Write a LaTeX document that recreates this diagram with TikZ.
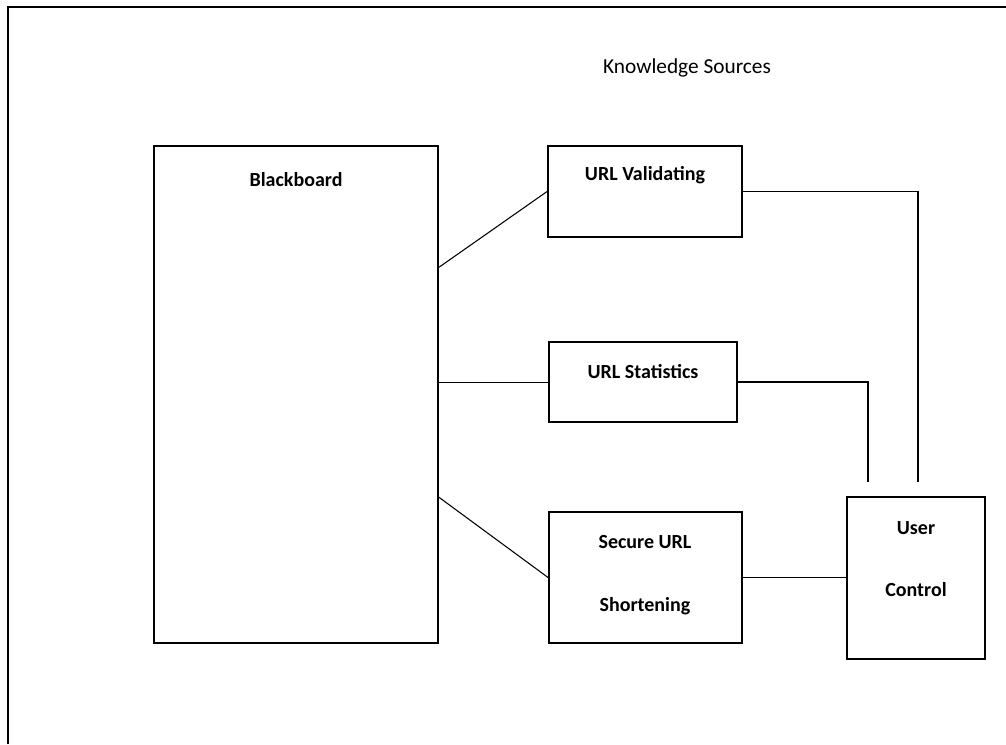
\documentclass[tikz,border=0pt]{standalone}
\usepackage{fontspec}
\setmainfont{Carlito}
\usetikzlibrary{positioning, calc}
\tikzstyle{box} = [rectangle, draw=black, line width=1.4pt, inner sep=0pt]
\tikzstyle{lbl} = [font=\fontsize{15}{18}\selectfont\bfseries, inner sep=0pt]
\tikzstyle{link} = [line width=0.8pt]

\begin{document}
\begin{tikzpicture}[x=0.75pt, y=-0.75pt]
    \useasboundingbox (0,0) rectangle (1006,744);

    % Outer frame
    \draw[line width=1.5pt] (8,744) -- (8,7) -- (1006,7);
    \node[font=\fontsize{16}{19}\selectfont, inner sep=0pt] (ks) at (687,68) {Knowledge Sources};

    % Boxes
    \node[box, minimum width=213pt, minimum height=372.75pt] (bb) at (296,394.5) {};
    \node[box, minimum width=145.5pt, minimum height=68.25pt] (val) at (645,191.5) {};
    \node[box, minimum width=141pt, minimum height=60pt] (stat) at (643,382) {};
    \node[box, minimum width=144.75pt, minimum height=98.25pt] (sec) at (645.5,577.5) {};
    \node[box, minimum width=103.5pt, minimum height=121.5pt] (uc) at (916,578) {};

    % Box texts
    \node[lbl] (bbt) at (296,180) {Blackboard};
    \node[lbl] (valt) at (645,175) {URL Validating};
    \node[lbl] (statt) at (643,372) {URL Statistics};
    \node[lbl] (sect) at (645,542) {Secure URL};
    \node[lbl] (sect2) at (645,606) {Shortening};
    \node[lbl] (uct) at (916,528) {User};
    \node[lbl] (uct2) at (916,590) {Control};

    % Blackboard to knowledge sources
    \coordinate (bb1) at ($(bb.north east)!0.245!(bb.south east)$);
    \coordinate (bb2) at ($(bb.north east)!0.475!(bb.south east)$);
    \coordinate (bb3) at ($(bb.north east)!0.706!(bb.south east)$);
    \draw[link] (bb1) -- (val.west);
    \draw[link] (bb2) -- (stat.west |- bb2);
    \draw[link] (bb3) -- (sec.west);

    % Knowledge sources to user control
    \coordinate (uc1) at ($(uc.north)+(2,-14)$);
    \coordinate (uc2) at ($(uc.north)+(-48,-14)$);
    \draw[link] (val.east) -| (uc1);
    \draw[link] (stat.east) -| (uc2);
    \draw[link] (sec.east) -- (uc.west |- sec.east);
\end{tikzpicture}
\end{document}
